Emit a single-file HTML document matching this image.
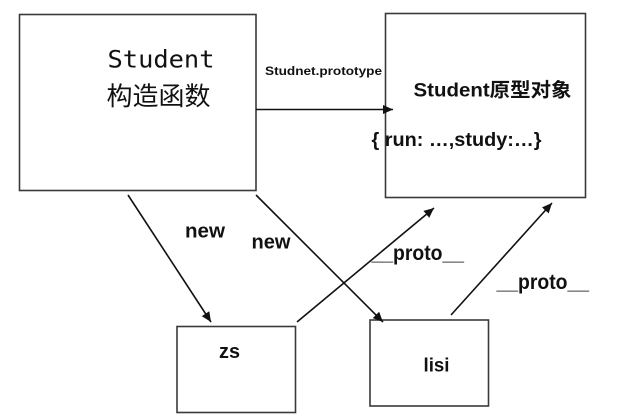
<!DOCTYPE html>
<html>
<head>
<meta charset="utf-8">
<style>
html,body{margin:0;padding:0;background:#fff;}
svg{display:block;}
</style>
</head>
<body>
<svg width="618" height="415" viewBox="0 0 618 415" xmlns="http://www.w3.org/2000/svg">
<defs>
<marker id="ah" markerUnits="userSpaceOnUse" markerWidth="12" markerHeight="10" refX="10" refY="4.5" orient="auto">
<path d="M0,0 L10,4.5 L0,9 Z" fill="#111"/>
</marker>
</defs>
<rect x="0" y="0" width="618" height="415" fill="#fff"/>
<g fill="none" stroke="#3a3a3a" stroke-width="1.6">
<rect x="19.5" y="14.5" width="236.5" height="176"/>
<rect x="385.5" y="13.5" width="200" height="184"/>
<rect x="177" y="326.5" width="118.5" height="86"/>
<rect x="370" y="320" width="118.5" height="86"/>
</g>
<g stroke="#111" stroke-width="1.6" fill="none">
<line x1="256" y1="109.5" x2="393" y2="109.5" marker-end="url(#ah)"/>
<line x1="128" y1="195" x2="211" y2="322" marker-end="url(#ah)"/>
<line x1="256" y1="195" x2="383" y2="322" marker-end="url(#ah)"/>
<line x1="297" y1="322" x2="434" y2="208" marker-end="url(#ah)"/>
<line x1="451" y1="315" x2="552" y2="203" marker-end="url(#ah)"/>
</g>
<g fill="#111">
<text x="107.5" y="67.5" font-family="'DejaVu Sans Mono','Liberation Mono',monospace" font-size="24" textLength="107" lengthAdjust="spacingAndGlyphs">Student</text>
<text x="106.5" y="105" font-family="'Liberation Sans','Noto Sans CJK SC',sans-serif" font-size="25.5" textLength="104" lengthAdjust="spacingAndGlyphs">构造函数</text>
<text x="265" y="75" font-family="'Liberation Sans',sans-serif" font-weight="bold" font-size="12" textLength="117" lengthAdjust="spacingAndGlyphs">Studnet.prototype</text>
<text x="413.5" y="96.5" font-family="'Liberation Sans','Noto Sans CJK SC',sans-serif" font-weight="bold" font-size="19.5" textLength="158" lengthAdjust="spacingAndGlyphs">Student原型对象</text>
<text x="371.5" y="146" font-family="'Liberation Sans',sans-serif" font-weight="bold" font-size="19.5" textLength="170" lengthAdjust="spacingAndGlyphs">{ run: …,study:…}</text>
<text x="185" y="237.5" font-family="'Liberation Sans',sans-serif" font-weight="bold" font-size="20" textLength="40" lengthAdjust="spacingAndGlyphs">new</text>
<text x="251.5" y="248.3" font-family="'Liberation Sans',sans-serif" font-weight="bold" font-size="20" textLength="39" lengthAdjust="spacingAndGlyphs">new</text>
<text x="371.5" y="260" font-family="'Liberation Sans',sans-serif" font-weight="bold" font-size="21" textLength="92.5" lengthAdjust="spacingAndGlyphs">__proto__</text>
<text x="496.5" y="289" font-family="'Liberation Sans',sans-serif" font-weight="bold" font-size="21" textLength="92.5" lengthAdjust="spacingAndGlyphs">__proto__</text>
<text x="219" y="358" font-family="'Liberation Sans',sans-serif" font-weight="bold" font-size="20" textLength="21" lengthAdjust="spacingAndGlyphs">zs</text>
<text x="423.5" y="371.5" font-family="'Liberation Sans',sans-serif" font-weight="bold" font-size="19" textLength="26" lengthAdjust="spacingAndGlyphs">lisi</text>
</g>
</svg>
</body>
</html>
